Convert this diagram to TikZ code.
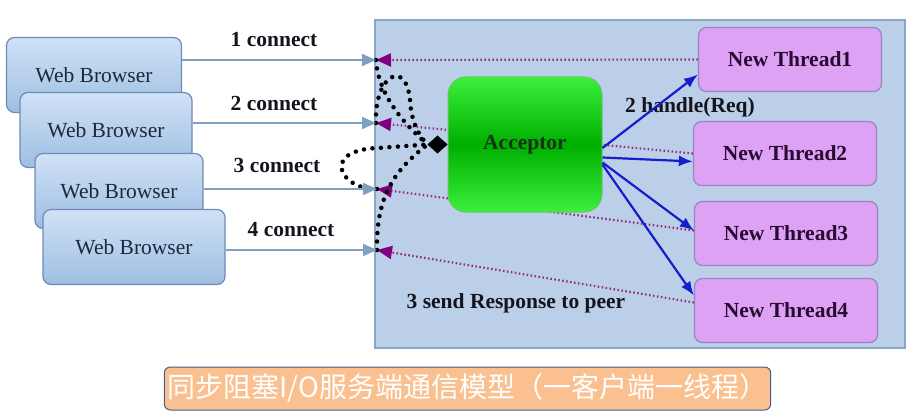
\documentclass[tikz,border=0pt]{standalone}
\usepackage{fontspec}
\setmainfont{Liberation Serif}
\newfontfamily\cjk{Noto Sans CJK SC}
\usetikzlibrary{arrows.meta,positioning}
\definecolor{srvfill}{RGB}{188,207,232}
\definecolor{srvedge}{RGB}{140,164,198}
\definecolor{wbtop}{RGB}{208,226,246}
\definecolor{wbbot}{RGB}{158,190,226}
\definecolor{wbedge}{RGB}{108,140,184}
\definecolor{wbtext}{RGB}{30,40,60}
\definecolor{thfill}{RGB}{222,162,245}
\definecolor{thedge}{RGB}{150,132,196}
\definecolor{thtext}{RGB}{40,10,50}
\definecolor{acclight}{RGB}{60,240,60}
\definecolor{accdark}{RGB}{0,175,0}
\definecolor{accedge}{RGB}{100,200,100}
\definecolor{acctext}{RGB}{20,50,20}
\definecolor{lbltext}{RGB}{20,20,30}
\definecolor{respcol}{RGB}{150,40,130}
\definecolor{tipcol}{RGB}{128,0,128}
\definecolor{concol}{RGB}{128,160,192}
\definecolor{reqcol}{RGB}{20,30,205}
\definecolor{capfill}{RGB}{250,192,143}
\definecolor{capedge}{RGB}{65,95,140}

\begin{document}
\begin{tikzpicture}[x=1pt,y=-1pt,
    bigbox/.style={draw=srvedge,line width=1.5pt,fill=srvfill,minimum width=530pt,minimum height=328pt},
    browser/.style={draw=wbedge,line width=1.2pt,rounded corners=8pt,top color=wbtop,bottom color=wbbot,minimum height=75pt,text=wbtext,font=\fontsize{21.5}{25}\selectfont},
    thread/.style={draw=thedge,line width=1.2pt,fill=thfill,rounded corners=8pt,minimum width=183pt,minimum height=64pt,text=thtext,font=\bfseries\fontsize{21.5}{25}\selectfont},
    acceptor/.style={draw=accedge,line width=1pt,rounded corners=18pt,top color=acclight,bottom color=acclight,middle color=accdark,minimum width=154pt,minimum height=135pt,text=acctext,font=\bfseries\fontsize{21.5}{25}\selectfont},
    lbl/.style={text=lbltext,font=\bfseries\fontsize{21.5}{25}\selectfont},
    respline/.style={respcol,line width=2.2pt,dash pattern=on 1.5pt off 2.5pt,-{Triangle[length=15pt,width=13pt,fill=tipcol,color=tipcol]}},
    conline/.style={black,line width=4.5pt,line cap=round,dash pattern=on 0pt off 8.5pt},
    conarrow/.style={concol,line width=2pt,-{Triangle[length=14pt,width=12pt]}},
    reqarrow/.style={reqcol,line width=2.2pt,-{Latex[length=14pt,width=11pt]}},
    caption/.style={draw=capedge,line width=1pt,fill=capfill,rounded corners=6pt,minimum width=605pt,minimum height=43pt,text=white,font=\cjk\fontsize{28}{32}\selectfont}]

    \useasboundingbox (0,0) rectangle (916,417);

    \node[bigbox] (server) at (640,184) {};

    \foreach \i/\cx/\cy/\w in {1/94/75/175,2/106/130/172,3/119/191/168,4/134/247/182}
    {
        \node[browser,minimum width=\w pt] (wb\i) at (\cx,\cy) {Web Browser};
    };

    \foreach \i/\cx/\cy in {1/790/59.5,2/785/153.5,3/786/233.5,4/786/310.5}
    {
        \node[thread] (th\i) at (\cx,\cy) {New Thread\i};
    };

    \coordinate (p1) at (376,60);
    \coordinate (p2) at (376,123);
    \coordinate (p3) at (377,189);
    \coordinate (p4) at (377,250);

    \draw[respline] (th1.west) -- (p1);
    \draw[respline] (th2.west) -- (p2);
    \draw[respline] ([yshift=3pt]th3.west) -- (p3);
    \draw[respline] ([yshift=8pt]th4.west) -- (p4);

    \node[acceptor] (acc) at (525,144.5) {Acceptor};
    \coordinate (hub) at ([xshift=-20pt]acc.west);

    \draw[conline] (p1) .. controls (378,95) and (405,125) .. (hub);
    \draw[conline] (p2) .. controls (374,75) and (406,58) .. (410,100) .. controls (411,120) and (418,135) .. (hub);
    \draw[conline] (p3) .. controls (340,190) and (320,150) .. (378,148) -- (hub);
    \draw[conline] (p4) .. controls (376,195) and (395,170) .. (hub);
    \draw[black,-{Diamond[length=20pt,width=18pt]}] (hub) -- (acc.west);

    \node[lbl] (c1) at (274,40) {1 connect};
    \node[lbl] (c2) at (274,103) {2 connect};
    \node[lbl] (c3) at (277,165) {3 connect};
    \node[lbl] (c4) at (291,230) {4 connect};
    \node[lbl] (handle) at (690,107) {2 handle(Req)};
    \node[lbl] (send) at (516,303) {3 send Response to peer};

    \draw[reqarrow] ([yshift=-3.5pt]acc.east) -- ([yshift=-15pt]th1.west);
    \draw[reqarrow] ([yshift=-13pt]acc.east) -- ([yshift=-8pt]th2.west);
    \draw[reqarrow] ([yshift=-18pt]acc.east) -- ([yshift=3pt]th3.west);
    \draw[reqarrow] ([yshift=-20pt]acc.east) -- ([yshift=15pt]th4.west);

    \foreach \i in {1,2,3,4}
    {
        \draw[conarrow] (wb\i.east |- p\i) -- (p\i);
    };

    \node[caption] (title) at (467.5,388.5) {同步阻塞I/O服务端通信模型（一客户端一线程）};

\end{tikzpicture}
\end{document}
